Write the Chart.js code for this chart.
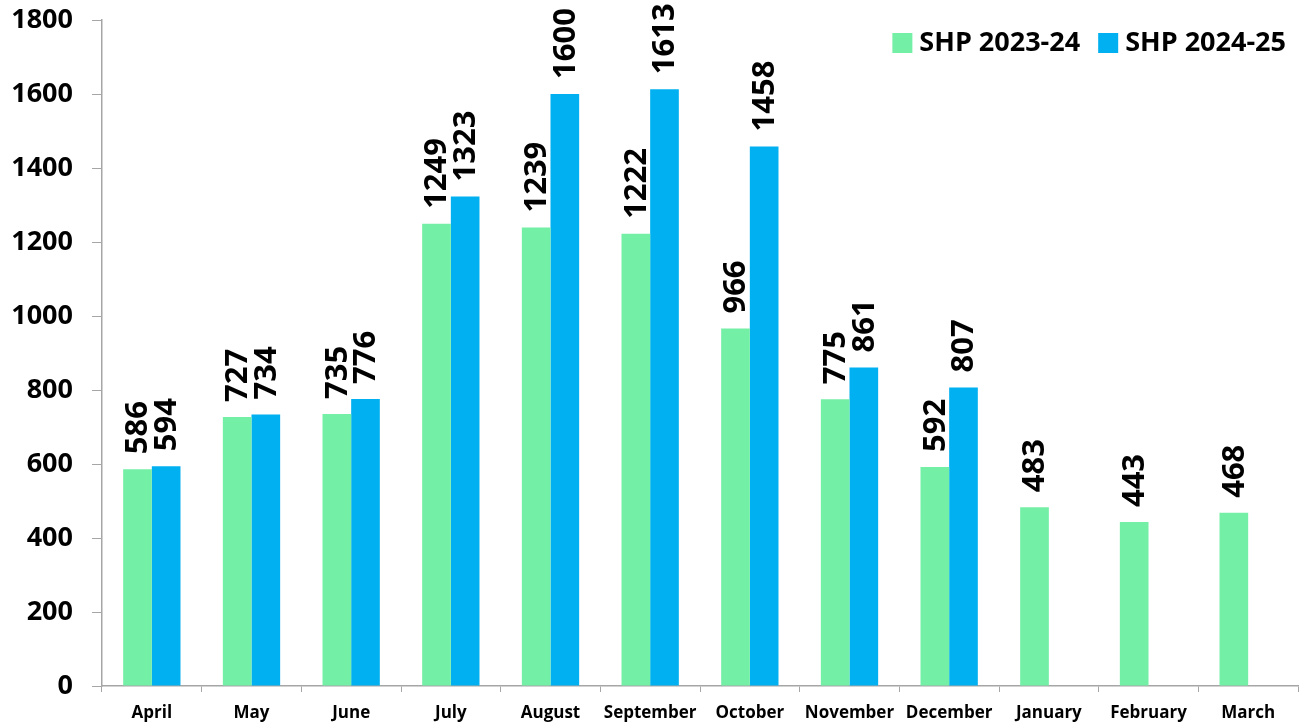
<!DOCTYPE html>
<html>
<head>
<meta charset="utf-8">
<script src="https://cdn.jsdelivr.net/npm/chart.js@4/dist/chart.umd.min.js"></script>
<style>
  html, body { margin: 0; padding: 0; background: #fff; }
  #wrap { width: 1306px; height: 728px; position: relative; }
</style>
</head>
<body>
<div id="wrap"><canvas id="c" width="1306" height="728"></canvas></div>
<script>
const months = ["April","May","June","July","August","September","October","November","December","January","February","March"];
const seriesNames = ["SHP 2023-24", "SHP 2024-25"];
const shp2023 = [586, 727, 735, 1249, 1239, 1222, 966, 775, 592, 483, 443, 468];
const shp2024 = [594, 734, 776, 1323, 1600, 1613, 1458, 861, 807, null, null, null];
const yTicks = [0, 200, 400, 600, 800, 1000, 1200, 1400, 1600, 1800];

const colors = ["#73EFA6", "#00B0F0"];
const FONT = "'Open Sans', 'DejaVu Sans', sans-serif";

const valueLabels = {
  id: 'valueLabels',
  afterDatasetsDraw(chart) {
    const ctx = chart.ctx;
    ctx.save();
    ctx.font = "bold 31px " + FONT;
    ctx.fillStyle = "#000";
    ctx.textAlign = "left";
    ctx.textBaseline = "middle";
    chart.data.datasets.forEach((ds, di) => {
      const meta = chart.getDatasetMeta(di);
      meta.data.forEach((bar, i) => {
        const v = ds.data[i];
        if (v === null || v === undefined) return;
        ctx.save();
        ctx.translate(bar.x + 1, bar.y - 15);
        ctx.rotate(-Math.PI / 2);
        ctx.fillText(String(v), 0, 0);
        ctx.restore();
      });
    });
    ctx.restore();
  }
};

const customLegend = {
  id: 'customLegend',
  afterDraw(chart) {
    const ctx = chart.ctx;
    ctx.save();
    ctx.font = "bold 27px " + FONT;
    ctx.textBaseline = "middle";
    ctx.textAlign = "left";
    const y = 43;
    const box = 20;
    let right = 1286;
    const items = seriesNames.map((n, i) => ({ n, c: colors[i], w: ctx.measureText(n).width }));
    const gap = 7, between = 18;
    let total = 0;
    items.forEach((it, i) => { total += box + gap + it.w + (i < items.length - 1 ? between : 0); });
    let x = right - total;
    items.forEach((it) => {
      ctx.fillStyle = it.c;
      ctx.fillRect(x, y - box / 2, box, box);
      x += box + gap;
      ctx.fillStyle = "#000";
      ctx.fillText(it.n, x, y);
      x += it.w + between;
    });
    ctx.restore();
  }
};

new Chart(document.getElementById('c'), {
  type: 'bar',
  data: {
    labels: months,
    datasets: [
      { label: seriesNames[0], data: shp2023, backgroundColor: colors[0], borderWidth: 0 },
      { label: seriesNames[1], data: shp2024, backgroundColor: colors[1], borderWidth: 0 }
    ]
  },
  plugins: [valueLabels, customLegend],
  options: {
    responsive: false,
    animation: false,
    devicePixelRatio: 1,
    layout: { padding: { top: 20, right: 8, left: 0, bottom: 0 } },
    plugins: {
      legend: { display: false },
      tooltip: { enabled: false }
    },
    datasets: { bar: { barPercentage: 1.0, categoryPercentage: 0.575 } },
    scales: {
      x: {
        grid: { display: true, drawOnChartArea: false, drawTicks: true, tickLength: 6, color: "#A6A6A6", offset: true },
        border: { display: true, color: "#A6A6A6", width: 1.5 },
        ticks: { color: "#000", font: { family: FONT, size: 17, weight: 'bold' }, padding: 11, maxRotation: 0, autoSkip: false },
        afterFit(s) { s.height = 42; s.paddingLeft = 0; s.paddingRight = 0; }
      },
      y: {
        min: 0, max: 1800,
        afterBuildTicks(s) { s.ticks = yTicks.map(v => ({ value: v })); },
        grid: { display: true, drawOnChartArea: false, drawTicks: true, tickLength: 10, color: "#A6A6A6" },
        border: { display: true, color: "#A6A6A6", width: 1.5 },
        ticks: { color: "#000", font: { family: FONT, size: 27, weight: 'bold' }, padding: 19, callback: (v) => String(v) },
        afterFit(s) { s.width = 102; s.paddingTop = 0; s.paddingBottom = 0; }
      }
    }
  }
});
</script>
</body>
</html>
